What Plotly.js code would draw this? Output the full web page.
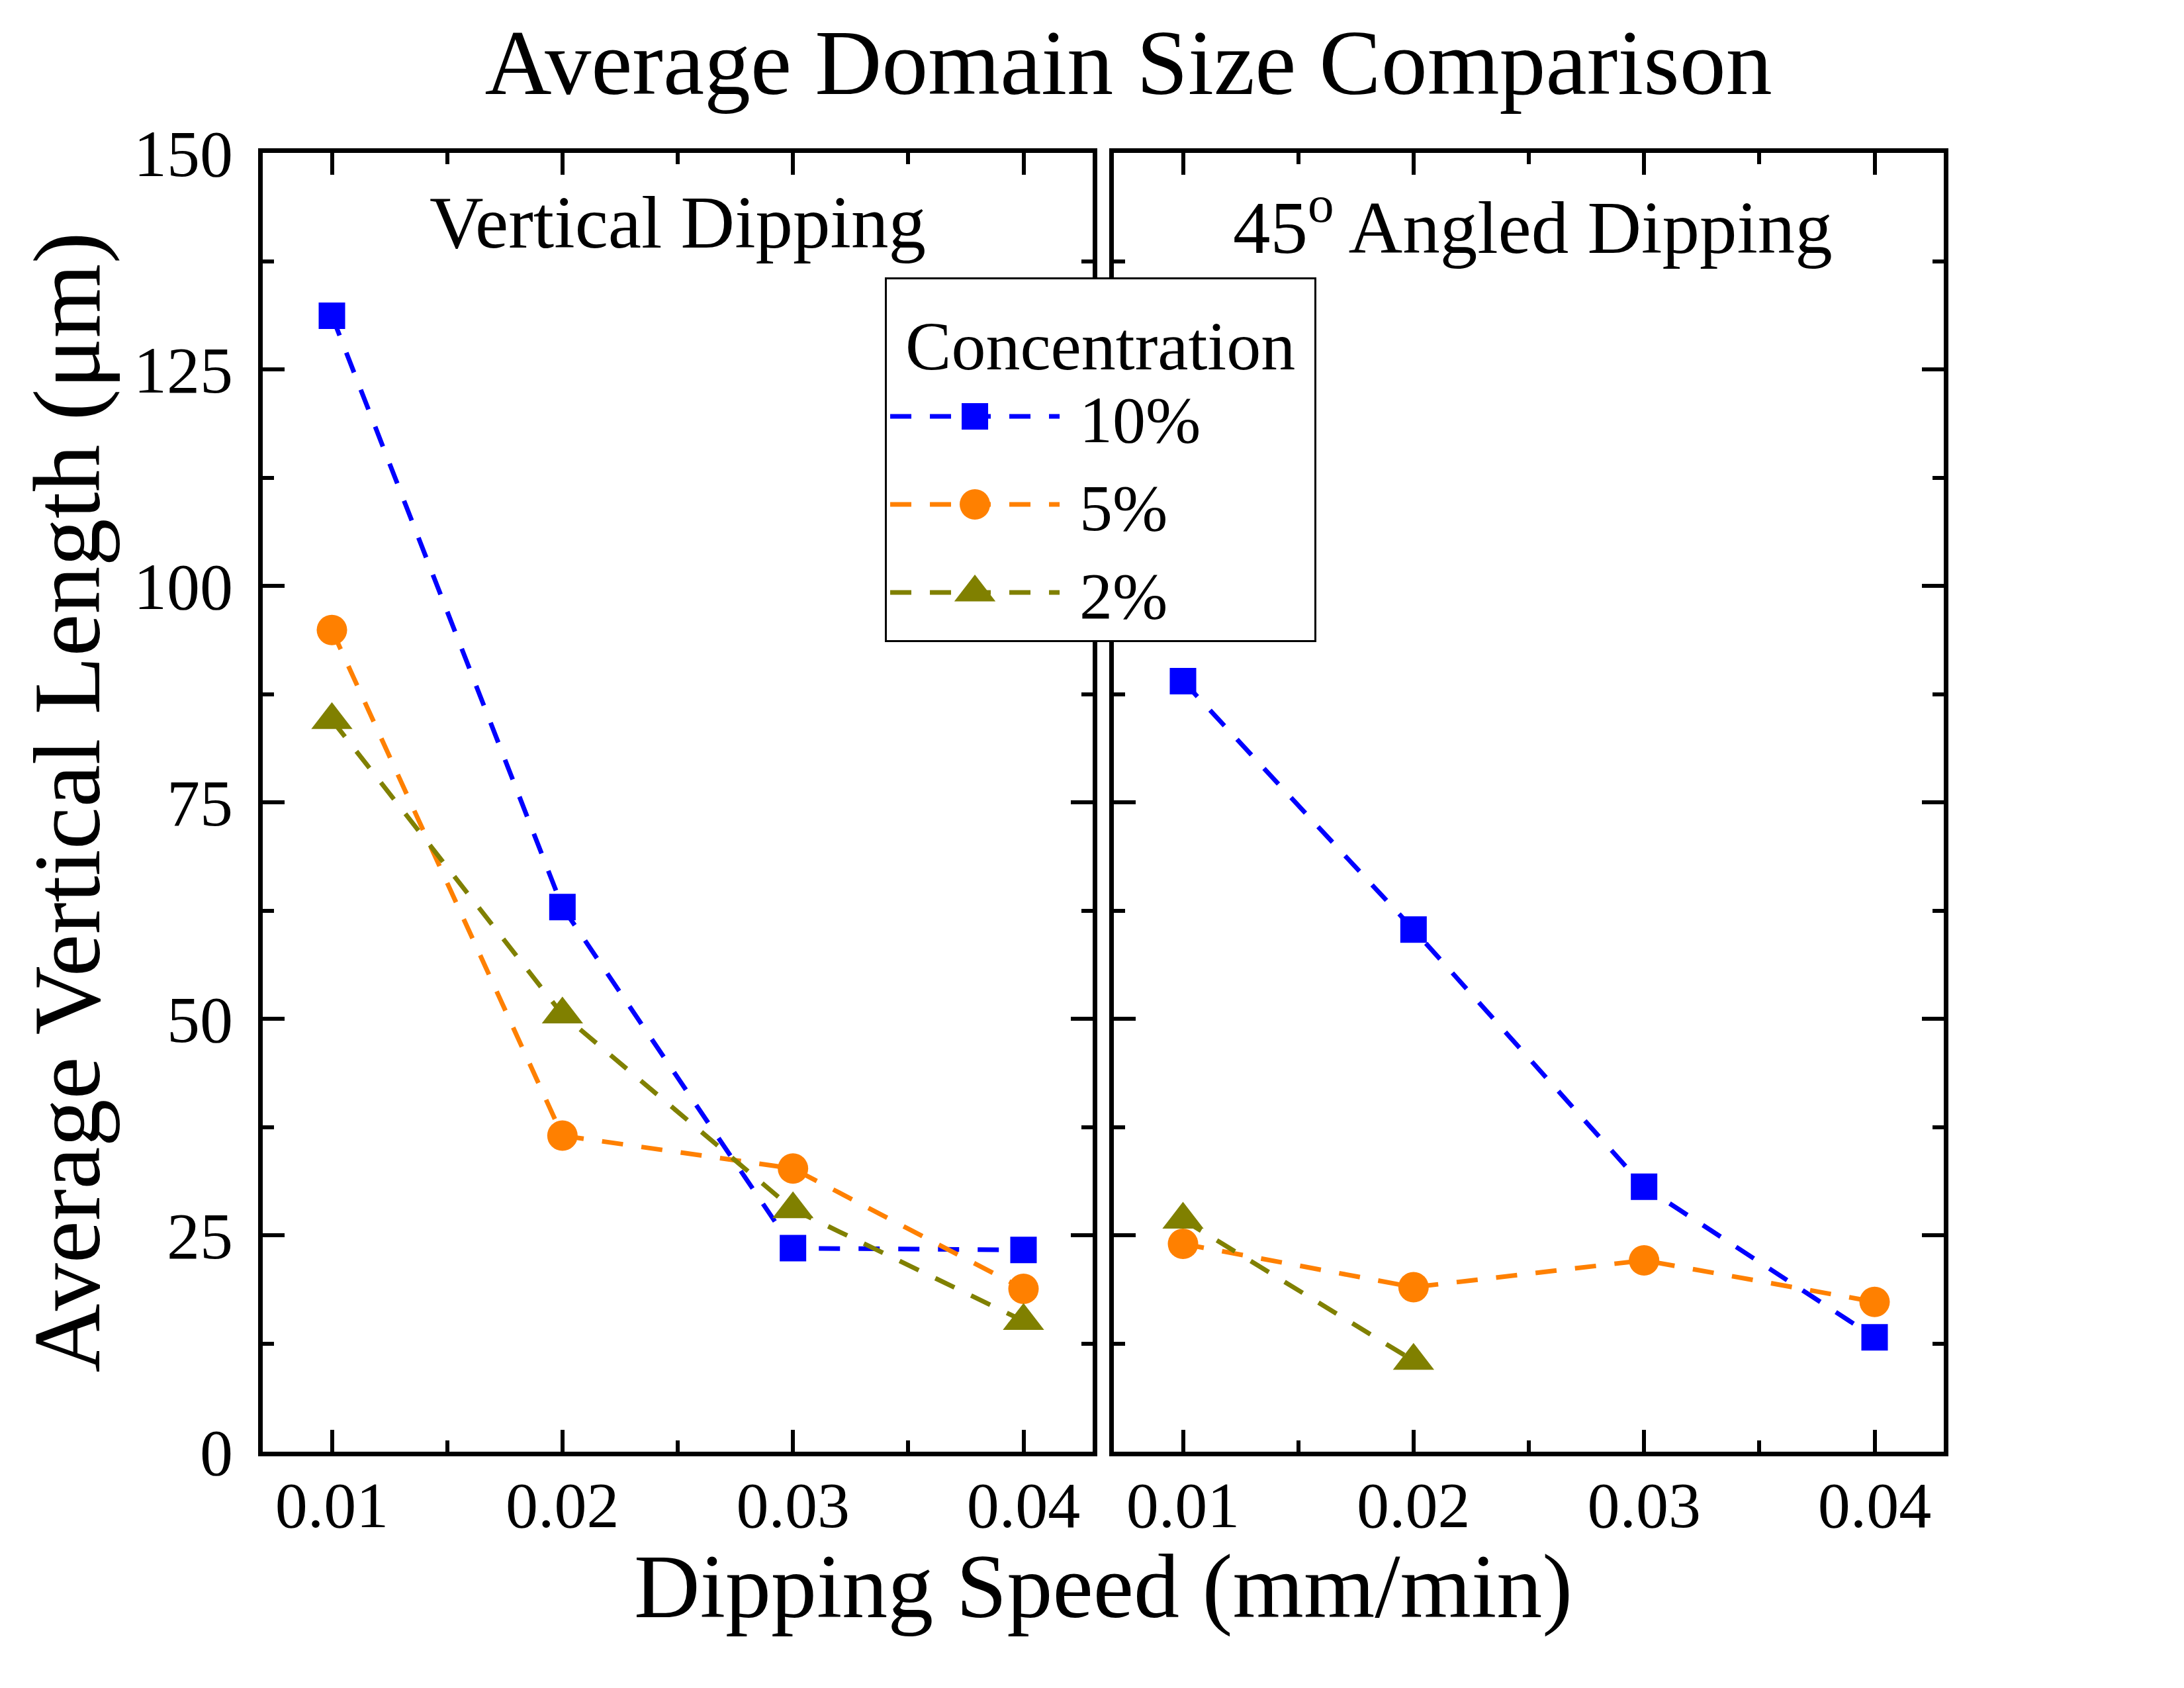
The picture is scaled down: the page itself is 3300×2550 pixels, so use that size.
<!DOCTYPE html>
<html>
<head>
<meta charset="utf-8">
<script src="https://cdn.plot.ly/plotly-3.0.1.min.js"></script>
<style>
html,body{margin:0;padding:0;background:#fff;}
#chart{width:3300px;height:2550px;}
</style>
</head>
<body>
<div id="chart"></div>
<script>
// ---- data ----
var speeds = [0.01, 0.02, 0.03, 0.04];
var speeds2pct = [0.01, 0.02];
var seriesNames = ['10%', '5%', '2%'];
var vertical10 = [131.2, 62.9, 23.5, 23.3];
var vertical5 = [94.9, 36.5, 32.7, 18.8];
var vertical2 = [84.5, 50.5, 28.0, 15.1];
var angled10 = [89.0, 60.3, 30.6, 13.2];
var angled5 = [24.0, 19.0, 22.1, 17.3];
var angled2 = [26.8, 10.5];
var yTicks = [0, 25, 50, 75, 100, 125, 150];
var xTicks = [0.01, 0.02, 0.03, 0.04];

// ---- styles ----
var colors = ['#0000FF', '#FF8000', '#808000'];
var symbols = ['square', 'circle', 'triangle-up'];
var sizes = [40, 46, 54];
var FONT = '"Liberation Serif", "Times New Roman", Times, serif';
var dash = '32px,28px';

function mk(x, y, i, xa, ya, show) {
  return {
    x: x, y: y, type: 'scatter', mode: 'lines+markers',
    name: '\u00a0' + seriesNames[i], legendgroup: seriesNames[i], showlegend: show,
    xaxis: xa, yaxis: ya,
    line: {color: colors[i], width: 7, dash: dash},
    marker: {color: colors[i], symbol: symbols[i], size: sizes[i], line: {width: 0}}
  };
}

var traces = [
  mk(speeds, vertical10, 0, 'x', 'y', true),
  mk(speeds, vertical5, 1, 'x', 'y', true),
  mk(speeds, vertical2, 2, 'x', 'y', true),
  mk(speeds, angled10, 0, 'x2', 'y2', false),
  mk(speeds, angled5, 1, 'x2', 'y2', false),
  mk(speeds2pct, angled2, 2, 'x2', 'y2', false)
];

function xax(domain, anchor) {
  return {
    domain: domain, anchor: anchor, range: [0.007, 0.043],
    tickmode: 'array', tickvals: xTicks, ticktext: xTicks.map(String),
    ticks: 'inside', ticklen: 33, tickwidth: 6, tickcolor: '#000',
    minor: {dtick: 0.005, tick0: 0, ticks: 'inside', ticklen: 17, tickwidth: 6, tickcolor: '#000'},
    showline: true, linewidth: 7, linecolor: '#000', mirror: 'allticks',
    showgrid: false, zeroline: false,
    tickfont: {family: FONT, size: 98, color: '#000'},
    ticklabelstandoff: -11
  };
}
function yax(anchor, showLabels) {
  return {
    anchor: anchor, range: [0, 150],
    tickmode: 'array', tickvals: yTicks, ticktext: yTicks.map(String),
    ticks: 'inside', ticklen: 33, tickwidth: 6, tickcolor: '#000',
    minor: {dtick: 12.5, tick0: 0, ticks: 'inside', ticklen: 17, tickwidth: 6, tickcolor: '#000'},
    showline: true, linewidth: 7, linecolor: '#000', mirror: 'allticks',
    showgrid: false, zeroline: false, showticklabels: showLabels,
    tickfont: {family: FONT, size: 100, color: '#000'},
    ticklabelstandoff: 18
  };
}

var ax1 = yax('x', true);
ax1.title = {text: 'Average Vertical Length (\u03bcm)', font: {family: FONT, size: 144, color: '#000'}, standoff: 5};
var ax2 = yax('x2', false);
ax2.matches = 'y';

var layout = {
  width: 3300, height: 2550,
  margin: {l: 397, r: 363, t: 231, b: 357},
  paper_bgcolor: '#fff', plot_bgcolor: '#fff',
  font: {family: FONT, color: '#000'},
  title: {
    text: 'Average Domain Size Comparison',
    font: {family: FONT, size: 140, color: '#000'},
    xref: 'paper', x: 0.515, xanchor: 'center',
    yref: 'container', y: 0.9637, yanchor: 'middle'
  },
  xaxis: xax([0, 0.4937], 'y'),
  xaxis2: xax([0.5063, 1], 'y2'),
  yaxis: ax1,
  yaxis2: ax2,
  showlegend: true,
  legend: {
    x: 0.3701, y: 0.904, xanchor: 'left', yanchor: 'top',
    xref: 'paper', yref: 'paper',
    bgcolor: '#fff', bordercolor: '#000', borderwidth: 3,
    font: {family: FONT, size: 100, color: '#000'},
    title: {text: '\u00a0Concentration\u00a0', font: {family: FONT, size: 104, color: '#000'}, side: 'top'},
    itemwidth: 256, tracegroupgap: 0
  },
  annotations: [
    {xref: 'x domain', yref: 'y domain', x: 0.5, y: 0.9467, xanchor: 'center', yanchor: 'middle',
     text: 'Vertical Dipping', showarrow: false, font: {family: FONT, size: 113, color: '#000'}},
    {xref: 'x2 domain', yref: 'y2 domain', x: 0.505, y: 0.9467, xanchor: 'center', yanchor: 'middle',
     text: '45<sup>o</sup> Angled Dipping', showarrow: false, font: {family: FONT, size: 113, color: '#000'}},
    {xref: 'paper', yref: 'paper', x: 0.5, y: -0.1037, xanchor: 'center', yanchor: 'middle',
     text: 'Dipping Speed (mm/min)', showarrow: false, font: {family: FONT, size: 138, color: '#000'}}
  ]
};

Plotly.newPlot('chart', traces, layout, {staticPlot: true, displayModeBar: false}).then(function (gd) {
  // enlarge legend marker glyphs to match the plotted marker sizes
  var items = gd.querySelectorAll('.legend .traces');
  items.forEach(function (item, idx) {
    var k = sizes[idx % sizes.length] / 16;
    item.querySelectorAll('path.scatterpts').forEach(function (p) {
      var t = p.getAttribute('transform') || '';
      p.setAttribute('transform', t + ' scale(' + k + ')');
    });
  });
});
</script>
</body>
</html>
